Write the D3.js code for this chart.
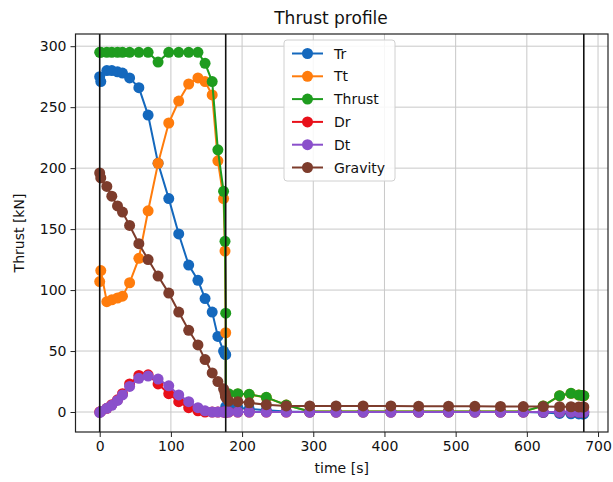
<!DOCTYPE html>
<html>
<head>
<meta charset="utf-8">
<script src="https://cdn.jsdelivr.net/npm/d3@7"></script>
<style>
  html, body { margin: 0; padding: 0; background: #fff; }
  svg { display: block; font-family: "DejaVu Sans", sans-serif; }
</style>
</head>
<body>
<svg id="chart" width="613" height="482"></svg>
<script>
// Collocation times [s]: ascent phase (0–177 s) followed by coast phase (177–680 s)
const time = [0, 1.5, 10, 17, 25, 32, 42, 55, 68, 82, 97, 111, 125, 138, 148, 158, 166, 174, 176, 177,
  177, 181, 194, 210, 234, 262, 295, 332, 370, 409, 448, 490, 527, 563, 595, 623, 646, 662, 673, 678, 680];

// Force components [kN]
const Tr = [275, 271, 280, 280, 279, 278, 274, 266, 243.5, 204, 175, 146, 120.5, 108, 93, 82, 62, 50, 47.5, 47,
  4.5, 4.2, 3.5, 2.5, 1.5, 0.5, 0, 0, 0, 0, 0, 0, 0, 0, 0, -0.5, -1.2, -1.5, -1.6, -1.6, -1.6];
const Tt = [107, 116, 90.5, 92, 93.5, 95, 106, 126, 165, 204, 237, 255, 269, 274, 271, 260, 206, 175, 132, 65,
  14.3, 14.5, 14.8, 14.3, 11.9, 5.7, 0.5, 0.5, 0.5, 0.5, 0.5, 0.5, 0.5, 0.5, 0.5, 5, 13.3, 15.2, 13.9, 13.4, 13.3];
const Thrust = [295, 295, 295, 295, 295, 295, 295, 295, 295, 287, 295, 295, 295, 295, 286, 271, 215, 181, 140, 81,
  15, 15, 15, 14.5, 12, 5.7, 0.5, 0.5, 0.5, 0.5, 0.5, 0.5, 0.5, 0.5, 0.5, 5, 13.4, 15.3, 14, 13.5, 13.4];
const Dr = [0, 0.5, 3, 6, 10, 15, 23, 30, 30.5, 23, 15, 8.5, 3.5, 1, 0, 0, 0, 0, 0, 0,
  0, 0, 0, 0, 0, 0, 0, 0, 0, 0, 0, 0, 0, 0, 0, 0, 0, 0, 0, 0, 0];
const Dt = [-0.5, 0.5, 3, 5.5, 9.5, 14, 21, 27.6, 29.5, 27, 21.5, 14, 8.5, 3.5, 1, 0, 0, 0, 0, 0,
  0, 0, 0, 0, 0, 0, 0, 0, 0, 0, 0, 0, 0, 0, 0, 0, 0, 0, 0, 0, 0];
const Gravity = [196, 192, 185, 177, 169, 164, 153, 138, 125, 111.5, 97.5, 82, 67, 55, 43, 32, 25, 19, 15.5, 13,
  12, 9, 8.5, 7.5, 6, 5, 5, 5, 5, 5, 4.8, 4.8, 4.7, 4.6, 4.5, 4.5, 4.4, 4.3, 4.2, 4.2, 4.2];

const seriesNames = ["Tr", "Tt", "Thrust", "Dr", "Dt", "Gravity"];
const seriesColors = ["#1468bd", "#ff7c0c", "#1e9c1e", "#e8101a", "#8a4fcb", "#7d3c2c"];
const seriesValues = [Tr, Tt, Thrust, Dr, Dt, Gravity];

// Phase boundaries [s]
const phaseMarks = [0, 177, 680];

const xTicks = [0, 100, 200, 300, 400, 500, 600, 700];
const yTicks = [0, 50, 100, 150, 200, 250, 300];

const svg = d3.select("#chart");
const plot = { left: 75.5, right: 608, top: 34, bottom: 432 };

const x = d3.scaleLinear().domain([-34, 714]).range([plot.left, plot.right]);
const y = d3.scaleLinear().domain([-16.4, 310]).range([plot.bottom, plot.top]);

// Grid
const grid = svg.append("g");
grid.selectAll(".gx").data(xTicks).join("line")
  .attr("x1", d => x(d)).attr("x2", d => x(d))
  .attr("y1", plot.top).attr("y2", plot.bottom)
  .attr("stroke", "#c8c8c8").attr("stroke-width", 1);
grid.selectAll(".gy").data(yTicks).join("line")
  .attr("y1", d => y(d)).attr("y2", d => y(d))
  .attr("x1", plot.left).attr("x2", plot.right)
  .attr("stroke", "#c8c8c8").attr("stroke-width", 1);

// Series
const line = d3.line().x(d => x(d[0])).y(d => y(d[1]));
seriesValues.forEach((vals, i) => {
  const pts = time.map((t, j) => [t, vals[j]]);
  const g = svg.append("g");
  g.append("path").datum(pts)
    .attr("d", line).attr("fill", "none")
    .attr("stroke", seriesColors[i]).attr("stroke-width", 2);
  g.selectAll("circle").data(pts).join("circle")
    .attr("cx", d => x(d[0])).attr("cy", d => y(d[1]))
    .attr("r", 5.5).attr("fill", seriesColors[i]);
});

// Phase boundary lines
svg.append("g").selectAll("line").data(phaseMarks).join("line")
  .attr("x1", d => x(d)).attr("x2", d => x(d))
  .attr("y1", plot.top).attr("y2", plot.bottom)
  .attr("stroke", "#111").attr("stroke-width", 1.6);

// Axes
const xAxis = svg.append("g").attr("transform", `translate(0,${plot.bottom})`)
  .call(d3.axisBottom(x).tickValues(xTicks).tickSize(5).tickPadding(4));
const yAxis = svg.append("g").attr("transform", `translate(${plot.left},0)`)
  .call(d3.axisLeft(y).tickValues(yTicks).tickSize(5).tickPadding(4));
[xAxis, yAxis].forEach(a => {
  a.select(".domain").remove();
  a.selectAll("text").attr("font-size", 14).attr("fill", "#111")
    .attr("font-family", "DejaVu Sans, sans-serif");
  a.selectAll("line").attr("stroke", "#222").attr("stroke-width", 1);
});

// Frame
svg.append("rect")
  .attr("x", plot.left).attr("y", plot.top)
  .attr("width", plot.right - plot.left).attr("height", plot.bottom - plot.top)
  .attr("fill", "none").attr("stroke", "#222").attr("stroke-width", 1.2);

// Titles
svg.append("text").attr("x", 331).attr("y", 24)
  .attr("text-anchor", "middle").attr("font-size", 17).attr("fill", "#111")
  .text("Thrust profile");
svg.append("text").attr("x", (plot.left + plot.right) / 2).attr("y", 473)
  .attr("text-anchor", "middle").attr("font-size", 14).attr("fill", "#111")
  .text("time [s]");
svg.append("text")
  .attr("transform", `translate(24,${(plot.top + plot.bottom) / 2}) rotate(-90)`)
  .attr("text-anchor", "middle").attr("font-size", 14).attr("fill", "#111")
  .text("Thrust [kN]");

// Legend
const lg = svg.append("g").attr("transform", "translate(284,40)");
lg.append("rect").attr("width", 111).attr("height", 141).attr("rx", 3)
  .attr("fill", "#fff").attr("fill-opacity", 0.85)
  .attr("stroke", "#d0d0d0").attr("stroke-width", 1);
seriesNames.forEach((name, i) => {
  const cy = 13.5 + i * 22.8;
  const row = lg.append("g");
  row.append("line").attr("x1", 8).attr("x2", 39).attr("y1", cy).attr("y2", cy)
    .attr("stroke", seriesColors[i]).attr("stroke-width", 2);
  row.append("circle").attr("cx", 23.5).attr("cy", cy).attr("r", 5.5).attr("fill", seriesColors[i]);
  row.append("text").attr("x", 50).attr("y", cy + 5).attr("font-size", 14).attr("fill", "#111")
    .text(name);
});
</script>
</body>
</html>
